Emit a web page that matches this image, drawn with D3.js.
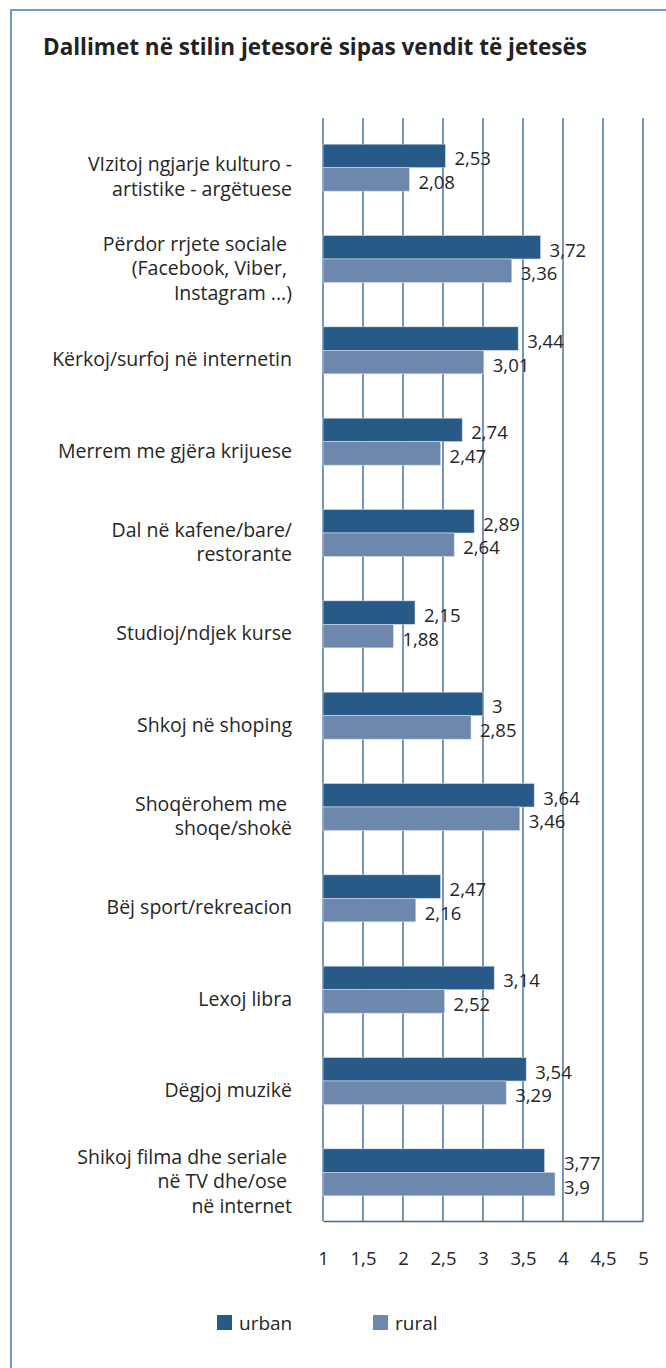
<!DOCTYPE html>
<html>
<head>
<meta charset="utf-8">
<script src="https://cdn.jsdelivr.net/npm/d3@7"></script>
<style>
  body { margin: 0; background: #fff; }
  svg { display: block; font-family: "Open Sans", "Noto Sans", sans-serif; }
</style>
</head>
<body>
<svg id="chart" width="666" height="1368"></svg>
<script>
// data
const categories = [
  "VIzitoj ngjarje kulturo -\nartistike - argëtuese",
  "Përdor rrjete sociale \n(Facebook, Viber, \nInstagram ...)",
  "Kërkoj/surfoj në internetin",
  "Merrem me gjëra krijuese",
  "Dal në kafene/bare/\nrestorante",
  "Studioj/ndjek kurse",
  "Shkoj në shoping",
  "Shoqërohem me \nshoqe/shokë",
  "Bëj sport/rekreacion",
  "Lexoj libra",
  "Dëgjoj muzikë",
  "Shikoj filma dhe seriale \nnë TV dhe/ose \nnë internet"
];
const urban = [2.53, 3.72, 3.44, 2.74, 2.89, 2.15, 3, 3.64, 2.47, 3.14, 3.54, 3.77];
const rural = [2.08, 3.36, 3.01, 2.47, 2.64, 1.88, 2.85, 3.46, 2.16, 2.52, 3.29, 3.9];
const seriesNames = ["urban", "rural"];
const tickValues = [1, 1.5, 2, 2.5, 3, 3.5, 4, 4.5, 5];
const title = "Dallimet në stilin jetesorë sipas vendit të jetesës";

const colors = { urban: "#285a87", rural: "#6d87ad" };
const lineColor = "#3b6a9c";
const textColor = "#262626";
const fmt = v => String(v).replace(".", ",");

let svg = d3.select("#chart");

// frame (only left + top edges fall inside the picture)
svg.append("path")
   .attr("d", "M11,1368 V10 H666")
   .attr("fill", "none")
   .attr("stroke", "#4a78a8")
   .attr("stroke-width", 1.5);

svg.append("text")
   .attr("x", 43)
   .attr("y", 55)
   .attr("font-size", 22.5)
   .attr("font-weight", "bold")
   .attr("fill", "#222")
   .text(title);

let plotTop = 118, plotBottom = 1221;

let x = d3.scaleLinear().domain([1, 5]).range([323, 643]);
let y = d3.scaleBand().domain(d3.range(categories.length)).range([122, 1218]);
let barH = 23.5;
let sub = d3.scaleBand().domain(seriesNames)
            .range([y.bandwidth() / 2 - barH, y.bandwidth() / 2 + barH]);

// gridlines
svg.append("g").selectAll("line")
   .data(tickValues)
   .enter().append("line")
     .attr("x1", d => x(d)).attr("x2", d => x(d))
     .attr("y1", plotTop).attr("y2", plotBottom)
     .attr("stroke", lineColor)
     .attr("stroke-width", 1.4);

// x axis
let xAxis = svg.append("g")
   .attr("transform", "translate(0," + plotBottom + ")")
   .call(d3.axisBottom(x).tickValues(tickValues).tickSize(0).tickSizeOuter(0)
           .tickPadding(31).tickFormat(fmt));
xAxis.select(".domain").attr("stroke", lineColor).attr("stroke-width", 1.6);
xAxis.selectAll("text")
   .attr("font-size", 18.5)
   .attr("font-family", "\"Open Sans\", sans-serif")
   .attr("fill", textColor);

// bars
let rows = categories.map((c, i) => ({ i: i, urban: urban[i], rural: rural[i] }));

let groups = svg.append("g").selectAll("g")
   .data(rows)
   .enter().append("g")
     .attr("transform", d => "translate(0," + y(d.i) + ")");

groups.selectAll("rect")
   .data(d => seriesNames.map(k => ({ key: k, value: d[k] })))
   .enter().append("rect")
     .attr("x", x(1))
     .attr("y", d => sub(d.key))
     .attr("width", d => x(d.value) - x(1))
     .attr("height", sub.bandwidth())
     .attr("fill", d => colors[d.key])
     .attr("stroke", "#d6dde8")
     .attr("stroke-width", 0.6);

// value labels
groups.selectAll("text.val")
   .data(d => seriesNames.map(k => ({ key: k, value: d[k], row: d })))
   .enter().append("text")
     .attr("class", "val")
     .attr("x", d => {
        let v = d.value;
        // urban label is pushed past a longer rural bar
        if (d.key === "urban" && d.row.rural > d.row.urban) v = d.row.rural;
        return x(v) + 9;
     })
     .attr("y", d => sub(d.key) + sub.bandwidth() / 2 + 9.5)
     .attr("font-size", 18.5)
     .attr("fill", textColor)
     .text(d => fmt(d.value));

// category labels
let lineH = 24.5;
let catLabels = svg.append("g").selectAll("text")
   .data(categories)
   .enter().append("text")
     .attr("text-anchor", "end")
     .attr("font-size", 19.5)
     .attr("fill", textColor)
     .attr("transform", (d, i) => "translate(292," + (y(i) + y.bandwidth() / 2 + 10) + ")");

catLabels.each(function(d) {
  let lines = d.split("\n");
  let t = d3.select(this);
  lines.forEach((ln, k) => {
    t.append("tspan")
     .attr("x", 0)
     .attr("y", (k - (lines.length - 1) / 2) * lineH + 6)
     .text(ln);
  });
});

// legend
let legend = svg.append("g").selectAll("g")
   .data(seriesNames)
   .enter().append("g")
     .attr("transform", (d, i) => "translate(" + (217 + i * 156) + ",1315)");
legend.append("rect")
   .attr("width", 15).attr("height", 15)
   .attr("fill", d => colors[d]);
legend.append("text")
   .attr("x", 22).attr("y", 15)
   .attr("font-size", 19)
   .attr("fill", textColor)
   .text(d => d);
</script>
</body>
</html>
